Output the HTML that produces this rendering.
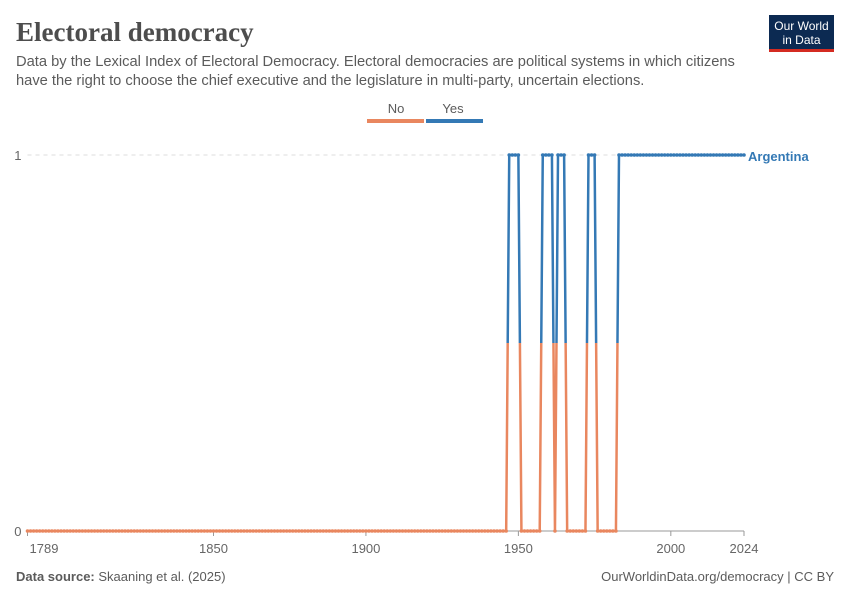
<!DOCTYPE html>
<html><head><meta charset="utf-8"><style>
body{margin:0;background:#fff;width:850px;height:600px;overflow:hidden;font-family:"Liberation Sans",sans-serif}
</style></head><body>
<svg width="850" height="600" xmlns="http://www.w3.org/2000/svg">
<text x="16" y="41" font-family="Liberation Serif,serif" font-size="27" font-weight="bold" fill="#4d4d4d">Electoral democracy</text>
<text x="16" y="66" font-size="14.7" fill="#5b5b5b">Data by the Lexical Index of Electoral Democracy. Electoral democracies are political systems in which citizens</text>
<text x="16" y="85" font-size="14.7" fill="#5b5b5b">have the right to choose the chief executive and the legislature in multi-party, uncertain elections.</text>
<g>
<rect x="769" y="15" width="65" height="35" fill="#0c2a52"/>
<rect x="769" y="49" width="65" height="3" fill="#d42b21"/>
<text x="801.5" y="30" text-anchor="middle" font-size="12" fill="#fff">Our World</text>
<text x="801.5" y="44" text-anchor="middle" font-size="12" fill="#fff">in Data</text>
</g>
<g>
<text x="396" y="113" text-anchor="middle" font-size="13" fill="#5b5b5b">No</text>
<text x="453" y="113" text-anchor="middle" font-size="13" fill="#5b5b5b">Yes</text>
<rect x="367" y="119" width="57" height="4" fill="#e9875f"/>
<rect x="426" y="119" width="57" height="4" fill="#3479b5"/>
</g>
<g id="plot"></g>
<text x="16" y="581" font-size="13" fill="#5b5b5b"><tspan font-weight="bold">Data source:</tspan> Skaaning et al. (2025)</text>
<text x="834" y="581" text-anchor="end" font-size="13" fill="#5b5b5b">OurWorldinData.org/democracy | CC BY</text>
</svg>
<script>
const yearStart = 1789, yearEnd = 2024;
const yesPeriods = [[1947,1950],[1958,1961],[1963,1965],[1973,1975],[1983,2024]];
const xTicks = [1789,1850,1900,1950,2000,2024];
const yTicks = [0,1];
const seriesName = "Argentina";

const NS="http://www.w3.org/2000/svg";
const X0=27.5,X1=744,Y0=531,Y1=155;
const x=y=>X0+(y-yearStart)/(yearEnd-yearStart)*(X1-X0);
const yS=v=>Y0+(Y1-Y0)*v;
const plot=document.getElementById('plot');
function mk(t,a){const e=document.createElementNS(NS,t);for(const k in a)e.setAttribute(k,a[k]);return e;}
yTicks.forEach(v=>{
  const g=mk('line',{x1:X0,x2:X1,y1:yS(v),y2:yS(v),stroke:v===0?'#999':'#ddd','stroke-dasharray':v===0?'':'4,4'});
  
  
  plot.appendChild(g);
  const t=mk('text',{x:X0-6,y:yS(v)+5,'text-anchor':'end','font-size':13,fill:'#666'});
  t.textContent=v;
  
  
  plot.appendChild(t);
});
xTicks.forEach(v=>{
  const l=mk('line',{x1:x(v),x2:x(v),y1:Y0,y2:Y0+5,stroke:'#999'});
  
  
  plot.appendChild(l);
  const t=mk('text',{x:v===yearStart?x(v)+2:x(v),y:Y0+22,'text-anchor':v===yearStart?'start':'middle','font-size':13,fill:'#666'});
  t.textContent=v;
  
  
  plot.appendChild(t);
});
const years=[],vals=[];
for(let y=yearStart;y<=yearEnd;y++){years.push(y);vals.push(yesPeriods.some(p=>y>=p[0]&&y<=p[1])?1:0);}
const defs=mk('defs',{});
defs.innerHTML=`<clipPath id="cTop"><rect x="0" y="0" width="850" height="${(Y0+Y1)/2}"/></clipPath><clipPath id="cBot"><rect x="0" y="${(Y0+Y1)/2}" width="850" height="400"/></clipPath>`;
plot.appendChild(defs);
const d=years.map((y,i)=>(i?'L':'M')+x(y).toFixed(2)+','+yS(vals[i])).join('');
[['cBot','#e9875f','line-no'],['cTop','#3479b5','line-yes']].forEach(([c,col,n])=>{
  const g=mk('g',{'clip-path':`url(#${c})`});
  
  
  g.appendChild(mk('path',{d,fill:'none',stroke:col,'stroke-width':2.5}));
  years.forEach((y,i)=>g.appendChild(mk('circle',{cx:x(y),cy:yS(vals[i]),r:1.8,fill:col})));
  plot.appendChild(g);
});
const lab=mk('text',{x:X1+4,y:yS(vals[vals.length-1])+6,'font-size':13,fill:'#3479b5','font-weight':'bold'});
lab.textContent=seriesName;


plot.appendChild(lab);
</script>
</body></html>
